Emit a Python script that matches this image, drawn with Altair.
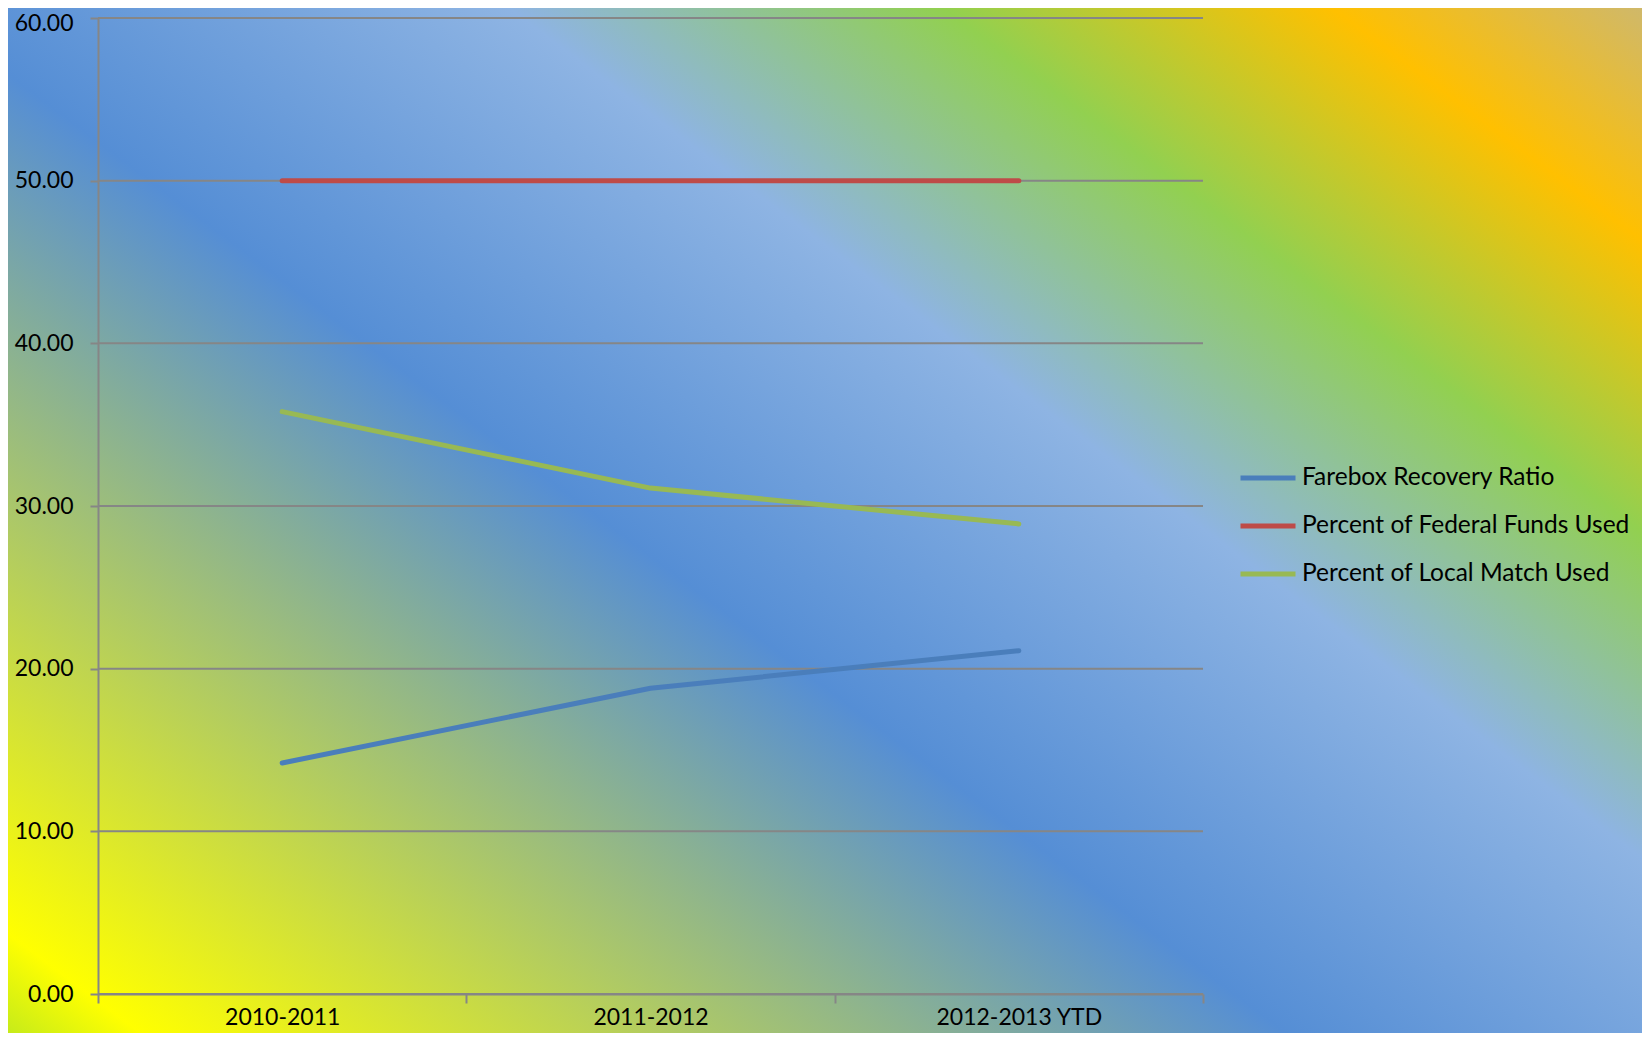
import altair as alt
import pandas as pd

periods = ["2010-2011", "2011-2012", "2012-2013 YTD"]
farebox = [14.2, 18.8, 21.1]
federal = [50.0, 50.0, 50.0]
local_match = [35.8, 31.1, 28.9]
series_names = ["Farebox Recovery Ratio", "Percent of Federal Funds Used", "Percent of Local Match Used"]
series_colors = ["#4A7EBB", "#BE4B48", "#98B954"]
grid_values = [0, 10, 20, 30, 40, 50, 60]

W, H = 1105, 976
PAD_L, PAD_T, PAD_R, PAD_B = 90, 10, 439, 39
FONT = "Lato"

rows = []
for name, vals in zip(series_names, [farebox, federal, local_match]):
    for p, v in zip(periods, vals):
        rows.append({"period": p, "series": name, "value": v})
df = pd.DataFrame(rows)

gradient = alt.LinearGradient(
    gradient="linear",
    x1=0, y1=1.014, x2=1.094, y2=0.099,
    stops=[
        alt.GradientStop(offset=0.0, color="#BEE81E"),
        alt.GradientStop(offset=0.05, color="#FFFF00"),
        alt.GradientStop(offset=0.427, color="#558ED5"),
        alt.GradientStop(offset=0.621, color="#8EB4E3"),
        alt.GradientStop(offset=0.764, color="#92D050"),
        alt.GradientStop(offset=0.892, color="#FFC000"),
        alt.GradientStop(offset=1.0, color="#CDB870"),
    ],
)

bg = alt.Chart(pd.DataFrame({"a": [0]})).mark_rect(color=gradient, clip=False).encode(
    x=alt.value(-PAD_L), x2=alt.value(W + PAD_R),
    y=alt.value(-PAD_T), y2=alt.value(H + PAD_B),
)

yscale = alt.Scale(domain=[0, 60], nice=False, zero=True)
yaxis = alt.Axis(
    title=None, values=grid_values, format=".2f", grid=False,
    tickSize=8, tickWidth=2, tickColor="#868686", domainColor="#868686",
    domainWidth=2, labelFont=FONT, labelFontSize=23, labelColor="#000000",
    labelPadding=17, zindex=1,
    labelOffset={"condition": {"test": "datum.value === 60", "value": 5}, "value": 0},
)

grid = alt.Chart(pd.DataFrame({"value": grid_values})).mark_rule(
    color="#868686", strokeWidth=2
).encode(
    y=alt.Y("value:Q", scale=yscale, axis=yaxis),
    x=alt.value(0), x2=alt.value(W),
)

lines = alt.Chart(df).mark_line(strokeWidth=5, strokeCap="round", strokeJoin="round").encode(
    x=alt.X(
        "period:N", sort=periods,
        scale=alt.Scale(type="band", paddingInner=0, paddingOuter=0),
        axis=alt.Axis(
            title=None, labelAngle=0, tickBand="extent", tickSize=9, tickWidth=2,
            tickColor="#868686", domainColor="#868686", domainWidth=2,
            labelFont=FONT, labelFontSize=23, labelColor="#000000", labelPadding=3,
            zindex=1,
        ),
    ),
    y=alt.Y("value:Q", scale=yscale, axis=yaxis),
    color=alt.Color(
        "series:N",
        scale=alt.Scale(domain=series_names, range=series_colors),
        legend=alt.Legend(
            title=None, orient="none", legendX=1140, legendY=430,
            symbolType="stroke", symbolSize=3025, symbolStrokeWidth=5,
            labelFont=FONT, labelFontSize=24.5, labelColor="#000000",
            labelOffset=4, rowPadding=6, padding=0, labelLimit=400, zindex=1,
        ),
    ),
)

chart = alt.layer(bg, grid, lines).properties(
    width=W, height=H,
    autosize=alt.AutoSizeParams(type="none"),
    padding={"left": PAD_L, "top": PAD_T, "right": PAD_R, "bottom": PAD_B},
).configure_view(stroke=None).configure(background="white")

chart.save("out.html", embed_options={"renderer": "svg", "actions": False})
